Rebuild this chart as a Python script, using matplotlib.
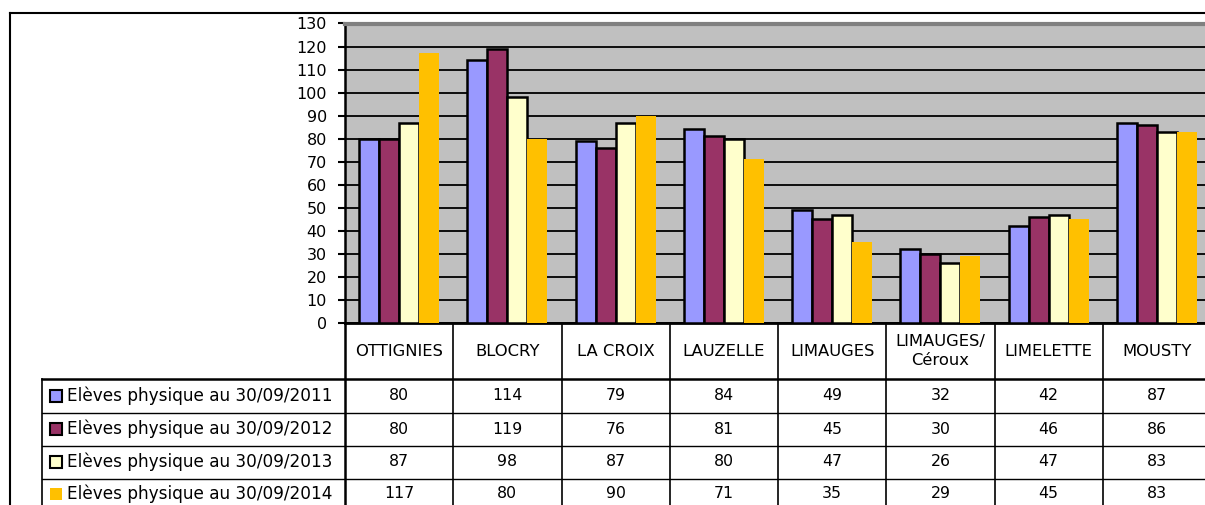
import numpy as np
import matplotlib
matplotlib.use("Agg")
import matplotlib.pyplot as plt
from matplotlib import transforms
from matplotlib.lines import Line2D

# data
schools = ["OTTIGNIES", "BLOCRY", "LA CROIX", "LAUZELLE", "LIMAUGES",
           "LIMAUGES/\nCéroux", "LIMELETTE", "MOUSTY"]
series_labels = ["Elèves physique au 30/09/2011",
                 "Elèves physique au 30/09/2012",
                 "Elèves physique au 30/09/2013",
                 "Elèves physique au 30/09/2014"]
eleves_2011 = [80, 114, 79, 84, 49, 32, 42, 87]
eleves_2012 = [80, 119, 76, 81, 45, 30, 46, 86]
eleves_2013 = [87, 98, 87, 80, 47, 26, 47, 83]
eleves_2014 = [117, 80, 90, 71, 35, 29, 45, 83]
yticks = list(range(0, 131, 10))

series = [eleves_2011, eleves_2012, eleves_2013, eleves_2014]
colors = ["#9999FF", "#993366", "#FFFFCC", "#FFC000"]
edges = ["black", "black", "black", "none"]

W, H = 1205, 505
fig = plt.figure(figsize=(W / 100, H / 100), dpi=100)
plt.rcParams['font.family'] = ['DejaVu Sans']


def fy(ypx):
    return 1 - ypx / H


def fx(xpx):
    return xpx / W


ax_left, ax_right, ax_top, ax_bot = 345, 1211, 23.5, 323
ax = fig.add_axes([fx(ax_left), fy(ax_bot), fx(ax_right - ax_left), (ax_bot - ax_top) / H])
ax.set_facecolor("#C0C0C0")

x = np.arange(len(schools))
bw = 0.185
for i, (vals, c, ec) in enumerate(zip(series, colors, edges)):
    ax.bar(x + (i - 1.5) * bw, vals, width=bw, color=c, edgecolor=ec,
           linewidth=1.8, zorder=3)

ax.set_xlim(-0.5, len(schools) - 0.5)
ax.set_ylim(0, 130)
ax.set_yticks(yticks)
ax.tick_params(axis="y", direction="out", length=5, width=1.5, labelsize=11.5, pad=8)
ax.set_xticks([])
ax.yaxis.grid(True, color="black", linewidth=1.3)
ax.set_axisbelow(True)
ax.spines["top"].set_color("#808080")
ax.spines["top"].set_linewidth(3)
ax.spines["right"].set_visible(False)
ax.spines["left"].set_linewidth(1.8)
ax.spines["bottom"].set_linewidth(2)

# outer frame of the chart object
fig.add_artist(Line2D([fx(10), fx(10)], [fy(12.5), 0], transform=fig.transFigure,
                      color="black", lw=1.5))
fig.add_artist(Line2D([fx(10), 1], [fy(12.5), fy(12.5)], transform=fig.transFigure,
                      color="black", lw=1.5))

# data table under the chart
trans = transforms.blended_transform_factory(ax.transData, fig.transFigure)
row_lines = [379, 412.5, 445.5, 478.5]
row_centers = [396, 429, 462, 494]

for k in range(len(schools) + 1):
    xb = k - 0.5
    fig.add_artist(Line2D([xb, xb], [fy(ax_bot), 0], transform=trans,
                          color="black", lw=1.8 if k == 0 else 1.2, clip_on=False))
for j, yl in enumerate(row_lines):
    fig.add_artist(Line2D([fx(42), 1], [fy(yl), fy(yl)], transform=fig.transFigure,
                          color="black", lw=1.8 if j == 0 else 1.0))
fig.add_artist(Line2D([fx(42), fx(42)], [fy(379), 0], transform=fig.transFigure,
                      color="black", lw=1.2))

for i, name in enumerate(schools):
    fig.text(i, fy(351), name, transform=trans, ha="center", va="center",
             fontsize=11.8, linespacing=1.3)

for r, (vals, lab, c, ec) in enumerate(zip(series, series_labels, colors, edges)):
    yc = fy(row_centers[r])
    for i, v in enumerate(vals):
        fig.text(i, yc, str(v), transform=trans, ha="center", va="center", fontsize=11.3)
    fig.add_artist(Line2D([fx(55.5)], [yc], transform=fig.transFigure, marker="s",
                          markersize=8, markerfacecolor=c,
                          markeredgecolor="black" if ec != "none" else c,
                          markeredgewidth=1.5 if ec != "none" else 0))
    fig.text(fx(67), yc, lab, ha="left", va="center", fontsize=12.2)

fig.savefig("out.png", dpi=100)
